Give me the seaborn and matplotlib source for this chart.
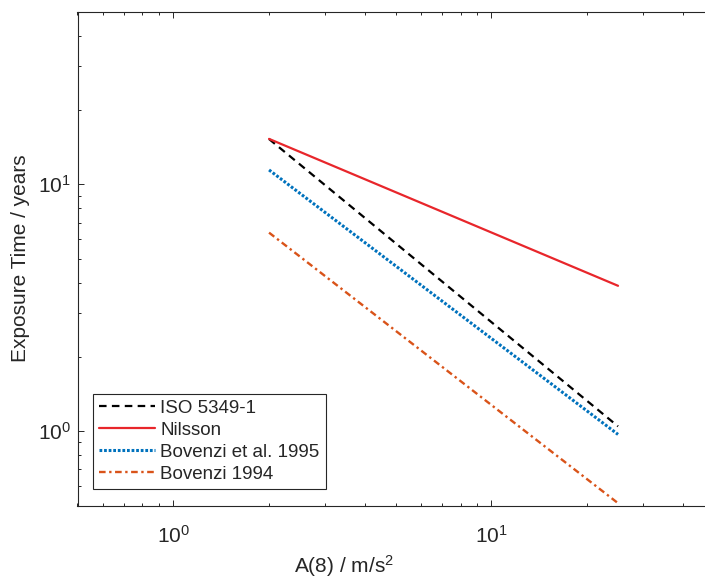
import matplotlib
matplotlib.use("Agg")
import matplotlib.pyplot as plt
import seaborn as sns
import pandas as pd

# ---- data ----
a8 = [2.0, 25.0]                      # A(8) / m/s^2
iso_5349 = [15.25, 1.046]             # ISO 5349-1
nilsson = [15.27, 3.88]               # Nilsson
bovenzi_1995 = [11.43, 0.97]          # Bovenzi et al. 1995
bovenzi_1994 = [6.37, 0.511]          # Bovenzi 1994
series_names = ["ISO 5349-1", "Nilsson", "Bovenzi et al. 1995", "Bovenzi 1994"]
series_values = [iso_5349, nilsson, bovenzi_1995, bovenzi_1994]

sns.set_style("white")
plt.rcParams["font.family"] = ["Liberation Sans", "DejaVu Sans"]
plt.rcParams["mathtext.fontset"] = "custom"
plt.rcParams["mathtext.rm"] = "Liberation Sans"
plt.rcParams["mathtext.it"] = "Liberation Sans"

W, H = 705, 578
fig = plt.figure(figsize=(W / 100, H / 100), dpi=100)
L, R, T, B = 77.5, 713.8, 11.7, 505.5
ax = fig.add_axes([L / W, 1 - B / H, (R - L) / W, (B - T) / H])

styles = {
    "ISO 5349-1": dict(color="black", lw=1.6, ls=(0, (3.4, 2.4))),
    "Nilsson": dict(color="#e8262b", lw=1.6, ls="-"),
    "Bovenzi et al. 1995": dict(color="#0072bd", lw=2.2, ls=(0, (0.9, 0.6))),
    "Bovenzi 1994": dict(color="#d95319", lw=1.7, ls=(0, (2.8, 1.5, 1.0, 1.5))),
}

for name, vals in zip(series_names, series_values):
    df = pd.DataFrame({"A8": a8, "T": vals})
    st = styles[name]
    sns.lineplot(data=df, x="A8", y="T", ax=ax, color=st["color"],
                 linewidth=st["lw"], linestyle=st["ls"], label=name,
                 legend=False)

ax.set_xscale("log")
ax.set_yscale("log")
ax.set_xlim(0.5, 50)
ax.set_ylim(0.5, 50)

axis_col = "#262626"
for s in ax.spines.values():
    s.set_color(axis_col)
    s.set_linewidth(0.8)
ax.tick_params(which="both", direction="in", top=True, right=True,
               bottom=True, left=True, colors=axis_col, width=0.7)
ax.tick_params(which="major", length=4.5, labelsize=15)
ax.tick_params(which="minor", length=2.5)
ax.tick_params(axis="x", which="major", pad=14)
ax.tick_params(axis="y", which="major", pad=5)

ax.set_xlabel("A(8) / m/s$^2$", fontsize=15, color=axis_col)
ax.set_ylabel("Exposure Time / years", fontsize=15, color=axis_col)
ax.xaxis.set_label_coords((344 - L) / (R - L), -(566 - B) / (B - T))
ax.yaxis.set_label_coords(-(L - 20.5) / (R - L), 0.5)
ax.xaxis.label.set_va("center")
ax.yaxis.label.set_va("center")

handles, labels = ax.get_legend_handles_labels()
leg = ax.legend(handles, labels, loc="lower left",
                bbox_to_anchor=((93 - L) / (R - L), (B - 489) / (B - T)),
                borderaxespad=0, fontsize=13.5, frameon=True, fancybox=False,
                edgecolor=axis_col, framealpha=1, handlelength=3.0,
                handletextpad=0.25, labelspacing=0.26, borderpad=0.33)
leg.get_frame().set_linewidth(0.8)
for t in leg.get_texts():
    t.set_color(axis_col)

fig.savefig("out.png", dpi=100)
